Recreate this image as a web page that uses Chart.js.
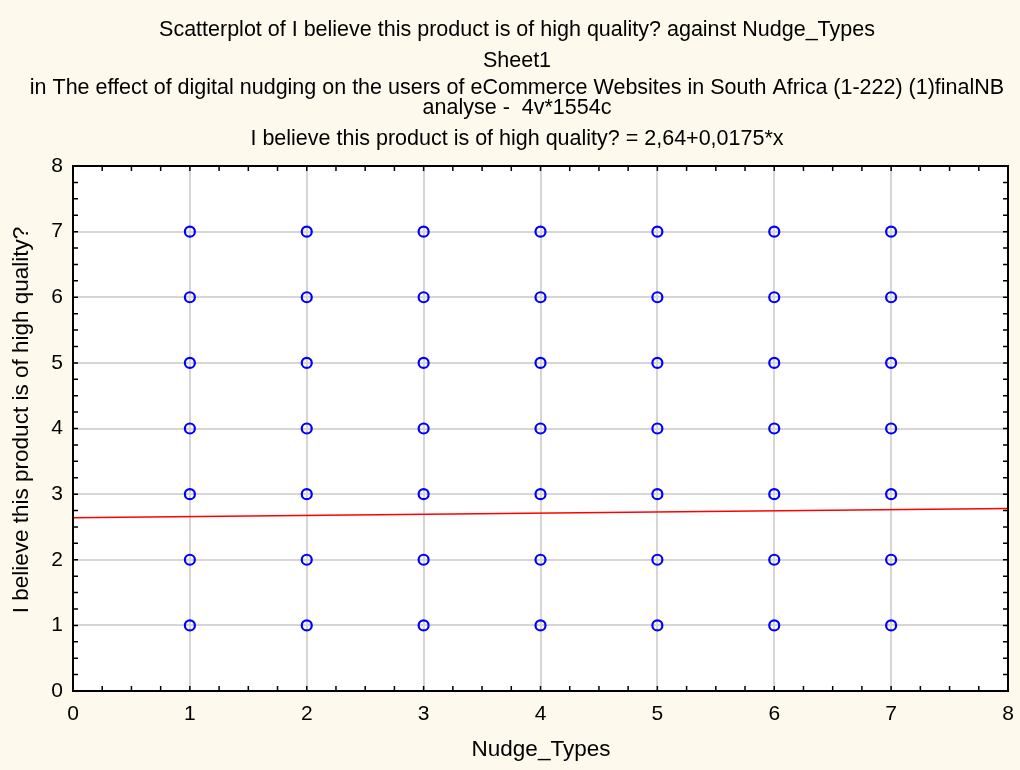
<!DOCTYPE html>
<html>
<head>
<meta charset="utf-8">
<script src="https://cdn.jsdelivr.net/npm/chart.js@4.4.0/dist/chart.umd.min.js"></script>
<style>
  html, body { margin: 0; padding: 0; background: #fdf9ec; }
  #wrap { width: 1020px; height: 770px; }
</style>
</head>
<body>
<div id="wrap"><canvas id="chart" width="1020" height="770"></canvas></div>
<script>
// categories / values
const nudgeTypes = [1, 2, 3, 4, 5, 6, 7];
const qualityRatings = [1, 2, 3, 4, 5, 6, 7];
const xTicks = [0, 1, 2, 3, 4, 5, 6, 7, 8];
const yTicks = [0, 1, 2, 3, 4, 5, 6, 7, 8];
// fitted line end points (2,64+0,0175*x)
const fitX = [0, 8];
const fitY = [2.64, 2.78];

const titleLines = [
  'Scatterplot of I believe this product is of high quality? against Nudge_Types',
  'Sheet1',
  'in The effect of digital nudging on the users of eCommerce Websites in South Africa (1-222) (1)finalNB',
  'analyse -  4v*1554c',
  'I believe this product is of high quality? = 2,64+0,0175*x'
];
const titleY = [30, 61, 88, 108, 139];
const xTitle = 'Nudge_Types';
const yTitle = 'I believe this product is of high quality?';

const font = '"Liberation Sans", Arial, sans-serif';

const points = [];
nudgeTypes.forEach(x => {
  qualityRatings.forEach(y => points.push({ x: x, y: y }));
});

const frameAndText = {
  id: 'frameAndText',
  beforeDraw(chart) {
    const ctx = chart.ctx;
    const a = chart.chartArea;
    ctx.save();
    ctx.fillStyle = '#fdf9ec';
    ctx.fillRect(0, 0, chart.width, chart.height);
    ctx.fillStyle = '#ffffff';
    ctx.fillRect(a.left, a.top, a.right - a.left, a.bottom - a.top);
    ctx.restore();
  },
  afterDraw(chart) {
    const ctx = chart.ctx;
    const a = chart.chartArea;
    const xs = chart.scales.x;
    const ys = chart.scales.y;
    ctx.save();
    // frame
    ctx.strokeStyle = '#000';
    ctx.lineWidth = 2;
    ctx.strokeRect(a.left, a.top, a.right - a.left, a.bottom - a.top);
    // inward ticks, quarter steps
    ctx.lineWidth = 1.5;
    ctx.beginPath();
    for (let v = 0; v <= 8; v += 0.25) {
      const px = xs.getPixelForValue(v);
      ctx.moveTo(px, a.bottom); ctx.lineTo(px, a.bottom - 5);
      ctx.moveTo(px, a.top); ctx.lineTo(px, a.top + 5);
      const py = ys.getPixelForValue(v);
      ctx.moveTo(a.left, py); ctx.lineTo(a.left + 5, py);
      ctx.moveTo(a.right, py); ctx.lineTo(a.right - 5, py);
    }
    ctx.stroke();
    // titles
    ctx.fillStyle = '#000';
    ctx.textAlign = 'center';
    ctx.textBaseline = 'middle';
    ctx.font = '21.5px ' + font;
    titleLines.forEach((t, i) => ctx.fillText(t, 517, titleY[i]));
    ctx.font = '22.5px ' + font;
    ctx.fillText(xTitle, 541, 750);
    ctx.translate(22, 420);
    ctx.rotate(-Math.PI / 2);
    ctx.fillText(yTitle, 0, 0);
    ctx.restore();
  }
};

new Chart(document.getElementById('chart'), {
  type: 'scatter',
  data: {
    datasets: [{
      data: points,
      pointStyle: 'circle',
      pointRadius: 5,
      pointBorderWidth: 2.2,
      pointBorderColor: '#0000ff',
      pointBackgroundColor: 'rgba(0,0,0,0)',
      order: 1
    }, {
      type: 'line',
      data: fitX.map((x, i) => ({ x: x, y: fitY[i] })),
      borderColor: '#ff0000',
      borderWidth: 1.5,
      pointRadius: 0,
      fill: false,
      order: 2
    }]
  },
  options: {
    responsive: false,
    animation: false,
    layout: { padding: { top: 166, right: 12, left: 0, bottom: 0 } },
    plugins: {
      legend: { display: false },
      tooltip: { enabled: false }
    },
    scales: {
      x: {
        type: 'linear',
        min: 0,
        max: 8,
        afterBuildTicks: s => { s.ticks = xTicks.map(v => ({ value: v })); },
        afterFit: s => { s.height = 79; s.paddingLeft = 0; s.paddingRight = 0; },
        grid: { color: '#d6d6d6', lineWidth: 2, drawTicks: false },
        border: { display: false },
        ticks: { color: '#000', font: { family: font, size: 21 }, padding: 11 }
      },
      y: {
        type: 'linear',
        min: 0,
        max: 8,
        afterBuildTicks: s => { s.ticks = yTicks.map(v => ({ value: v })); },
        afterFit: s => { s.width = 73; s.paddingTop = 0; s.paddingBottom = 0; },
        grid: { color: '#d6d6d6', lineWidth: 2, drawTicks: false },
        border: { display: false },
        ticks: { color: '#000', font: { family: font, size: 21 }, padding: 10 }
      }
    }
  },
  plugins: [frameAndText]
});
</script>
</body>
</html>
